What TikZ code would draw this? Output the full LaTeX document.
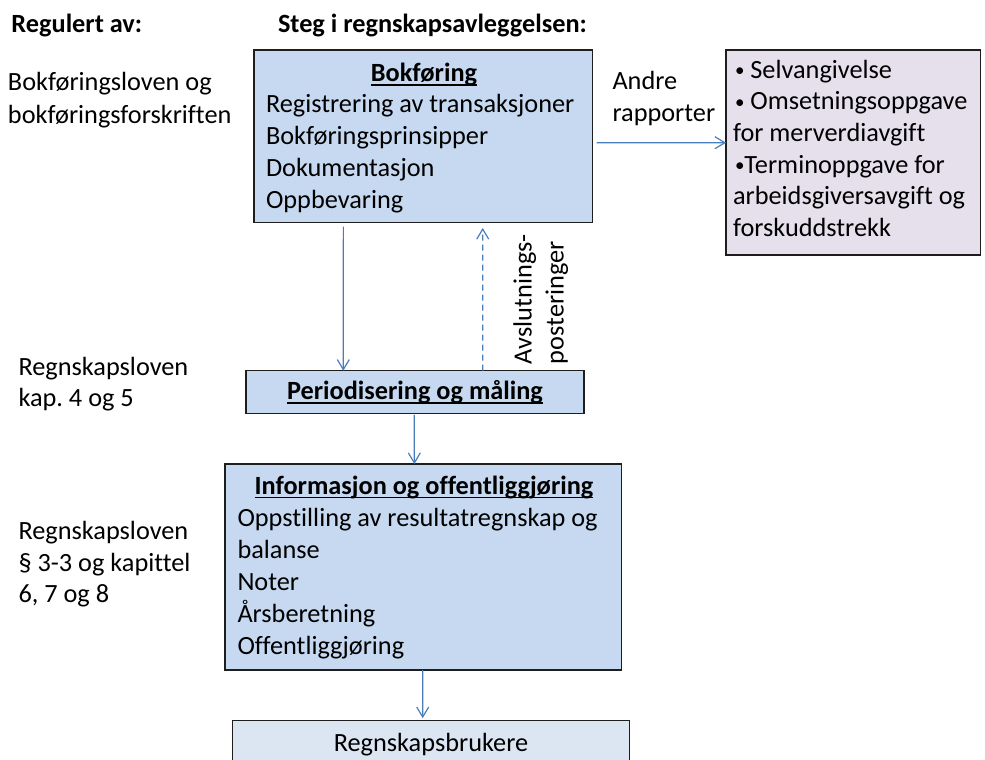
\documentclass[tikz,border=0pt]{standalone}
\usepackage{fontspec}
\setmainfont{Carlito}[Ligatures=NoCommon]
\usetikzlibrary{arrows.meta}
\frenchspacing

\definecolor{stepblue}{HTML}{C6D9F1}
\definecolor{userblue}{HTML}{DCE6F2}
\definecolor{reportlilac}{HTML}{E5E0EC}
\definecolor{linkblue}{HTML}{4A7EBB}
\definecolor{edgegray}{HTML}{1E1E1E}

\newcommand{\bodysize}{\fontsize{26.3}{32}\selectfont}
\newcommand{\smallbullet}{{\fontsize{19}{19}\selectfont\raisebox{1.5pt}{•}}}

\tikzset{
  stepbox/.style={draw=edgegray, line width=1.4pt, inner sep=0pt, outer sep=0pt},
  txt/.style={inner sep=0pt, outer sep=0pt, anchor=base west, text=black,
              font=\bodysize},
  ctxt/.style={txt, anchor=base},
  bold/.style={font=\bodysize\bfseries},
  link/.style={draw=linkblue, line width=1.2pt,
               -{Straight Barb[length=10pt,width=12pt,line width=1.2pt]}},
  uline/.style={draw=black, line width=1.4pt}
}

\begin{document}
\begin{tikzpicture}[x=1pt,y=-1pt]
\clip (0,0) rectangle (985,760);
\fill[white] (0,0) rectangle (985,760);

% column headings
\node[txt, bold] (hreg) at (11.5,33) {Regulert av:};
\node[txt, bold] (hsteg) at (278,33) {Steg i regnskapsavleggelsen:};

% regulations, left column
\node[txt] (r1a) at (8,91) {Bokføringsloven og};
\node[txt] (r1b) at (8,123) {bokføringsforskriften};
\node[txt] (r2a) at (18.5,375) {Regnskapsloven};
\node[txt] (r2b) at (18.5,406.5) {kap. 4 og 5};
\node[txt] (r3a) at (18.5,539.5) {Regnskapsloven};
\node[txt] (r3b) at (18.5,571) {§ 3-3 og kapittel};
\node[txt] (r3c) at (18.5,602.5) {6, 7 og 8};

% step boxes
\node[stepbox, fill=stepblue, minimum width=338.7pt, minimum height=172.7pt]
  (bok) at (423.35,136.35) {};
\node[stepbox, fill=stepblue, minimum width=338pt, minimum height=42.6pt]
  (per) at (415,392) {};
\node[stepbox, fill=stepblue, minimum width=396.7pt, minimum height=206pt]
  (inf) at (423.35,567) {};
\node[stepbox, fill=userblue, minimum width=396.6pt, minimum height=80pt]
  (usr) at (431,760.7) {};
\node[stepbox, fill=reportlilac, minimum width=254.7pt, minimum height=205pt]
  (rep) at (853.35,152.5) {};

% Bokføring
\node[ctxt, bold] (bokT) at (424,81.5) {Bokføring};
\draw[uline] ([yshift=-3.5pt]bokT.base west) -- ([yshift=-3.5pt]bokT.base east);
\node[txt] (bok1) at (266,112) {Registrering av transaksjoner};
\node[txt] (bok2) at (266,144) {Bokføringsprinsipper};
\node[txt] (bok3) at (266,176) {Dokumentasjon};
\node[txt] (bok4) at (266,208) {Oppbevaring};

% Periodisering og måling
\node[ctxt, bold] (perT) at (415,399.5) {Periodisering og måling};
\draw[uline] ([yshift=-3.5pt]perT.base west) -- ([yshift=-3.5pt]perT.base east);

% Informasjon og offentliggjøring
\node[ctxt, bold] (infT) at (424,494) {Informasjon og offentliggjøring};
\draw[uline] ([yshift=-3.5pt]infT.base west) -- ([yshift=-3.5pt]infT.base east);
\node[txt] (inf1) at (237.5,526) {Oppstilling av resultatregnskap og};
\node[txt] (inf2) at (237.5,558) {balanse};
\node[txt] (inf3) at (237.5,590) {Noter};
\node[txt] (inf4) at (237.5,622) {Årsberetning};
\node[txt] (inf5) at (237.5,654) {Offentliggjøring};

% Regnskapsbrukere
\node[ctxt] (usrT) at (431,751) {Regnskapsbrukere};

% other reports
\node[txt] (rep1) at (735,78) {\smallbullet\ Selvangivelse};
\node[txt] (rep2) at (735,110) {\smallbullet\ Omsetningsoppgave};
\node[txt] (rep3) at (733,141.5) {for merverdiavgift};
\node[txt] (rep4) at (735,173) {\smallbullet Terminoppgave for};
\node[txt] (rep5) at (733,204.5) {arbeidsgiversavgift og};
\node[txt] (rep6) at (733,236) {forskuddstrekk};
\node[txt] (and1) at (612.5,89) {Andre};
\node[txt] (and2) at (612.5,121) {rapporter};

% closing entries label, rotated
\node[txt, rotate=90] (avs1) at (531.5,364) {Avslutnings-};
\node[txt, rotate=90] (avs2) at (563.5,364) {posteringer};

% connectors
\draw[link] ([xshift=4pt,yshift=-6.35pt]bok.east) -- ([yshift=9.8pt]rep.west);
\draw[link] ([xshift=-80pt,yshift=-4pt]bok.south) -- ([xshift=-71.7pt]per.north);
\draw[link, dashed, dash pattern=on 6pt off 4pt]
  ([xshift=67.7pt]per.north) -- ([xshift=59.35pt,yshift=-5.3pt]bok.south);
\draw[link] ([xshift=-0.7pt,yshift=-1.5pt]per.south) -- ([xshift=-9pt]inf.north);
\draw[link] ([xshift=-0.7pt]inf.south) -- ([xshift=-8.3pt,yshift=2.5pt]usr.north);
\end{tikzpicture}
\end{document}
